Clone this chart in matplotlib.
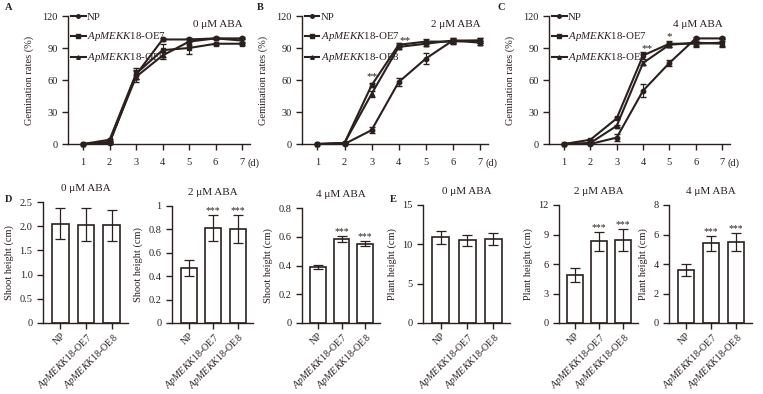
import matplotlib
matplotlib.use("Agg")
import matplotlib.pyplot as plt

plt.rcParams['font.family'] = ['Liberation Serif', 'DejaVu Serif']
plt.rcParams['mathtext.fontset'] = 'custom'
plt.rcParams['mathtext.rm'] = 'Liberation Serif'
plt.rcParams['mathtext.it'] = 'Liberation Serif:italic'
plt.rcParams['font.size'] = 7.5

INK = '#2a201e'
W, H = 763, 394

# ---- germination time course (A-C) ----
days = [1, 2, 3, 4, 5, 6, 7]
lines = ['NP', r'$\mathit{ApMEKK18}$-OE7', r'$\mathit{ApMEKK18}$-OE8']
markers = ['o', 's', '^']

germ_0 = {
    'NP':  [0, 1, 65, 98, 98, 99, 99],
    'OE7': [0, 4, 66, 88, 90, 94, 94],
    'OE8': [0, 2, 63, 83, 96, 99, 97],
}
germ_0_err = {
    'NP':  [0, 1, 4, 1, 1, 1, 1],
    'OE7': [0, 1, 5, 6, 6, 1, 1],
    'OE8': [0, 1, 5, 3, 3, 1, 1],
}
germ_2 = {
    'NP':  [0, 0, 13, 58, 80, 97, 97],
    'OE7': [0, 1, 55, 93, 96, 96, 97],
    'OE8': [0, 1, 47, 91, 94, 97, 95],
}
germ_2_err = {
    'NP':  [0, 0, 3, 4, 5, 2, 2],
    'OE7': [0, 0, 2, 2, 2, 2, 2],
    'OE8': [0, 0, 3, 2, 2, 2, 2],
}
germ_4 = {
    'NP':  [0, 0, 6, 50, 76, 99, 99],
    'OE7': [0, 4, 24, 83, 94, 94, 95],
    'OE8': [0, 1, 17, 76, 93, 95, 94],
}
germ_4_err = {
    'NP':  [0, 0, 3, 6, 3, 1, 1],
    'OE7': [0, 1, 1, 3, 3, 3, 3],
    'OE8': [0, 1, 1, 2, 2, 3, 3],
}
aba_titles = ['0 \u03bcM ABA', '2 \u03bcM ABA', '4 \u03bcM ABA']

# ---- bar panels (D, E) ----
groups = ['NP', r'$\mathit{ApMEKK18}$-OE7', r'$\mathit{ApMEKK18}$-OE8']
shoot = [[2.05, 2.03, 2.02], [0.47, 0.815, 0.805], [0.39, 0.585, 0.553]]
shoot_err = [[0.32, 0.34, 0.32], [0.07, 0.11, 0.12], [0.015, 0.02, 0.02]]
shoot_sig = [['', '', ''], ['', '***', '***'], ['', '***', '***']]
shoot_ticks = [[0, 0.5, 1.0, 1.5, 2.0, 2.5], [0, 0.2, 0.4, 0.6, 0.8, 1.0],
               [0, 0.2, 0.4, 0.6, 0.8]]
shoot_ticklabels = [['0', '0.5', '1.0', '1.5', '2.0', '2.5'],
                    ['0', '0.2', '0.4', '0.6', '0.8', '1'],
                    ['0', '0.2', '0.4', '0.6', '0.8']]
plant = [[10.9, 10.5, 10.7], [4.9, 8.3, 8.45], [3.6, 5.4, 5.5]]
plant_err = [[0.8, 0.7, 0.8], [0.7, 0.95, 1.1], [0.4, 0.5, 0.6]]
plant_sig = [['', '', ''], ['', '***', '***'], ['', '***', '***']]
plant_ticks = [[0, 5, 10, 15], [0, 3, 6, 9, 12], [0, 2, 4, 6, 8]]


def px_axes(fig, left, top, right, bottom):
    return fig.add_axes([left / W, 1 - bottom / H, (right - left) / W,
                         (bottom - top) / H])


def style_axes(ax):
    for s in ['top', 'right']:
        ax.spines[s].set_visible(False)
    for s in ['left', 'bottom']:
        ax.spines[s].set_color(INK)
        ax.spines[s].set_linewidth(1.0)
    ax.tick_params(colors=INK, width=1.0, length=4, labelsize=7.5)


def line_panel(ax, data, err, title, stars):
    keys = ['NP', 'OE7', 'OE8']
    handles = []
    for k, lab, m in zip(keys, lines, markers):
        ax.errorbar(days, data[k], yerr=err[k], fmt='none', ecolor=INK,
                    elinewidth=0.8, capsize=2, clip_on=False)
        h, = ax.plot(days, data[k], color=INK, marker=m, markersize=3.2,
                     linewidth=1.5, label=lab, clip_on=False)
        handles.append(h)
    ax.set_xlim(0.43, 7.3)
    ax.set_ylim(0, 120)
    ax.set_yticks([0, 30, 60, 90, 120])
    ax.set_xticks(days)
    ax.set_xticklabels([str(d) for d in days])
    ax.tick_params(axis='x', pad=6)
    ax.annotate('(d)', xy=(7, 0), xycoords='data', xytext=(4, -10.5),
                textcoords='offset points', ha='left', va='top',
                fontsize=7.5, color=INK, annotation_clip=False)
    ax.set_ylabel('Gemination rates (%)', color=INK, labelpad=6)
    ax.text(0.96, 0.97, title, transform=ax.transAxes, ha='right', va='top',
            fontsize=8, color=INK)
    leg = ax.legend(handles=handles, loc='upper left',
                    bbox_to_anchor=(-0.005, 1.06), frameon=False,
                    fontsize=7.8, handlelength=1.3, handletextpad=0.1,
                    labelspacing=0.75, borderaxespad=0, markerscale=0.8)
    for t in leg.get_texts():
        t.set_color(INK)
    for x, y, s in stars:
        ax.text(x, y, s, ha='center', va='bottom', fontsize=8, color=INK)
    style_axes(ax)


def bar_panel(ax, vals, errs, sig, ticks, ticklabels, ylabel, title):
    x = list(range(len(groups)))
    ax.bar(x, vals, width=0.65, color='white', edgecolor=INK, linewidth=1.2)
    ax.errorbar(x, vals, yerr=errs, fmt='none', ecolor=INK, elinewidth=0.9,
                capsize=3.5, capthick=0.9)
    for xi, v, e, s in zip(x, vals, errs, sig):
        if s:
            ax.text(xi, v + e, s, ha='center', va='bottom', fontsize=7,
                    color=INK)
    ax.set_xlim(-0.68, 2.63)
    ax.set_ylim(0, ticks[-1])
    ax.set_yticks(ticks)
    ax.set_yticklabels(ticklabels)
    ax.set_xticks(x)
    ax.set_xticklabels(groups, rotation=45, ha='right',
                       rotation_mode='anchor', fontsize=7.2)
    ax.set_ylabel(ylabel, color=INK, labelpad=4)
    ax.set_title(title, fontsize=8, color=INK, pad=8)
    style_axes(ax)
    ax.tick_params(axis='x', pad=2, labelsize=7.2)


fig = plt.figure(figsize=(W / 100, H / 100), dpi=100)

top_boxes = [(68, 16, 250, 144), (302, 16, 488, 144), (549, 16, 730, 144)]
top_data = [(germ_0, germ_0_err), (germ_2, germ_2_err), (germ_4, germ_4_err)]
top_stars = [[], [(3, 59, '**'), (4.25, 93, '**')],
             [(4.15, 85, '**'), (5, 96, '*')]]
for box, (d, e), t, st in zip(top_boxes, top_data, aba_titles, top_stars):
    ax = px_axes(fig, *box)
    line_panel(ax, d, e, t, st)

d_boxes = [(43, 202, 128, 323), (172, 206, 253, 323), (302, 208, 380, 323)]
for i, box in enumerate(d_boxes):
    ax = px_axes(fig, *box)
    bar_panel(ax, shoot[i], shoot_err[i], shoot_sig[i], shoot_ticks[i],
              shoot_ticklabels[i], 'Shoot height (cm)', aba_titles[i])

e_boxes = [(423, 205, 510, 323), (559, 205, 638, 323), (669, 205, 752, 323)]
for i, box in enumerate(e_boxes):
    ax = px_axes(fig, *box)
    bar_panel(ax, plant[i], plant_err[i], plant_sig[i], plant_ticks[i],
              [str(t) for t in plant_ticks[i]], 'Plant height (cm)',
              aba_titles[i])

for lab, x, y in [('A', 5, 8), ('B', 257, 8), ('C', 498, 8),
                  ('D', 5, 199), ('E', 390, 199)]:
    fig.text(x / W, 1 - y / H, lab, fontsize=7.5, fontweight='bold',
             color=INK, ha='left', va='center')

fig.savefig('out.png', dpi=100)
